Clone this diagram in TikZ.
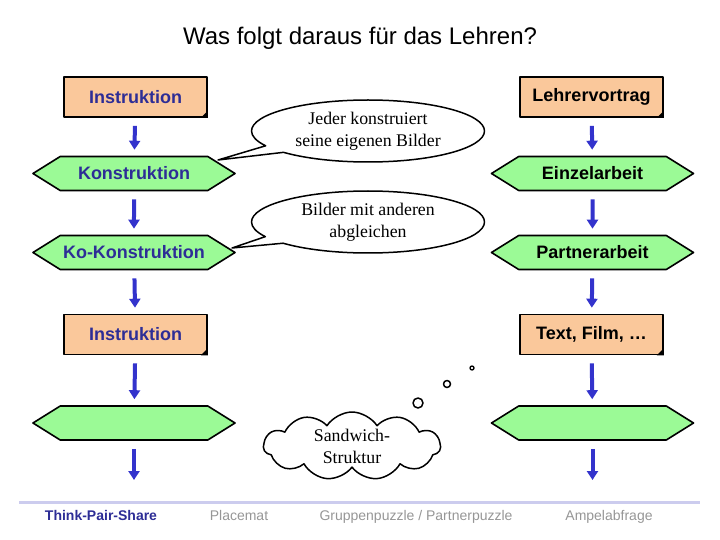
\documentclass[tikz,border=0pt]{standalone}
\usepackage{fontspec}
\setmainfont{Liberation Serif}
\setsansfont{Liberation Sans}
\usepackage{tikz}
\usetikzlibrary{arrows.meta,shapes.symbols,shapes.callouts}
\definecolor{kartefarbe}{RGB}{250,200,155}
\definecolor{hexgruen}{RGB}{155,250,150}
\definecolor{pfeilblau}{RGB}{51,51,204}
\definecolor{textblau}{RGB}{45,45,150}
\definecolor{linie}{RGB}{204,204,238}
\definecolor{grau}{RGB}{150,150,150}

\begin{document}
\begin{tikzpicture}[x=1pt,y=-1pt,line join=round,
  karte/.style={draw,line width=1.6pt,fill=kartefarbe,minimum width=143pt,minimum height=40pt,inner sep=0pt,font=\sffamily\bfseries\fontsize{18}{21}\selectfont},
  hex/.style={signal,signal to=east and west,signal pointer angle=64,draw,line width=1.6pt,fill=hexgruen,minimum width=202pt,minimum height=34pt,inner sep=0pt,font=\sffamily\bfseries\fontsize{18}{21}\selectfont},
  pfeil/.style={-{Triangle[length=9pt,width=11pt]},line width=4pt,draw=pfeilblau,shorten <=8pt,shorten >=6pt},
  sprech/.style={ellipse callout,draw,line width=1.5pt,fill=white,minimum width=233pt,minimum height=62pt,inner sep=0pt,align=center,font=\fontsize{17.8}{22}\selectfont},
  wolke/.style={cloud,cloud puffs=11,cloud puff arc=115,aspect=2.8,draw,line width=1.5pt,fill=white,minimum width=177pt,minimum height=63pt,inner sep=0pt,align=center,font=\fontsize{17.8}{22}\selectfont},
  fuss/.style={anchor=base,font=\sffamily\fontsize{14}{16}\selectfont,text=grau}]
\useasboundingbox (0,0) rectangle (720,540);
\node[font=\sffamily\fontsize{24}{28}\selectfont] (titel) at (360,38) {Was folgt daraus für das Lehren?};
% linke Spalte
\node[karte,text=textblau] (li1) at (135.5,97) {Instruktion};
\node[hex,text=textblau] (lk1) at (134,173.5) {Konstruktion};
\node[hex,text=textblau] (lk2) at (134,252.5) {Ko-Konstruktion};
\node[karte,text=textblau] (li2) at (135.5,334.5) {Instruktion};
\node[hex] (lh3) at (134,423) {};
\coordinate (lende) at (134,486);
% rechte Spalte
\node[karte] (rl1) at (591.5,97) {Lehrervortrag};
\node[hex] (re1) at (592.5,173.5) {Einzelarbeit};
\node[hex] (rp1) at (592.5,252.5) {Partnerarbeit};
\node[karte] (rt1) at (591.5,334.5) {Text, Film, \ldots};
\node[hex] (rh3) at (592.5,423) {};
\coordinate (rende) at (592.5,486);
\foreach \n in {li1,li2,rl1,rt1}
  \fill (\n.south east) -- ++(-7,0) -- ++(7,-7) -- cycle;
\draw[pfeil] (li1) -- (lk1);
\draw[pfeil] (lk1) -- (lk2);
\draw[pfeil] (lk2) -- (li2);
\draw[pfeil] (li2) -- (lh3);
\draw[pfeil] (lh3) -- (lende);
\draw[pfeil] (rl1) -- (re1);
\draw[pfeil] (re1) -- (rp1);
\draw[pfeil] (rp1) -- (rt1);
\draw[pfeil] (rt1) -- (rh3);
\draw[pfeil] (rh3) -- (rende);
% Sprechblasen
\node[sprech,callout absolute pointer={(218,160)}] (blase1) at (368,131) {Jeder konstruiert\\seine eigenen Bilder};
\node[sprech,callout absolute pointer={(232,248)}] (blase2) at (368,222) {Bilder mit anderen\\abgleichen};
\node[wolke] (sandwich) at (352,446) {Sandwich-\\Struktur};
\draw[line width=1.5pt] (418,403) circle (5);
\draw[line width=1.5pt] (447,384) circle (3.5);
\draw[line width=1.3pt] (472,368) circle (2);
% Fusszeile
\draw[linie,line width=3pt] (19,502) -- (700,502);
\node[fuss,text=textblau,font=\sffamily\bfseries\fontsize{14}{16}\selectfont] (tps) at (101,520) {Think-Pair-Share};
\node[fuss] (placemat) at (239,520) {Placemat};
\node[fuss] (puzzle) at (416,520) {Gruppenpuzzle / Partnerpuzzle};
\node[fuss] (ampel) at (609,520) {Ampelabfrage};
\end{tikzpicture}
\end{document}
